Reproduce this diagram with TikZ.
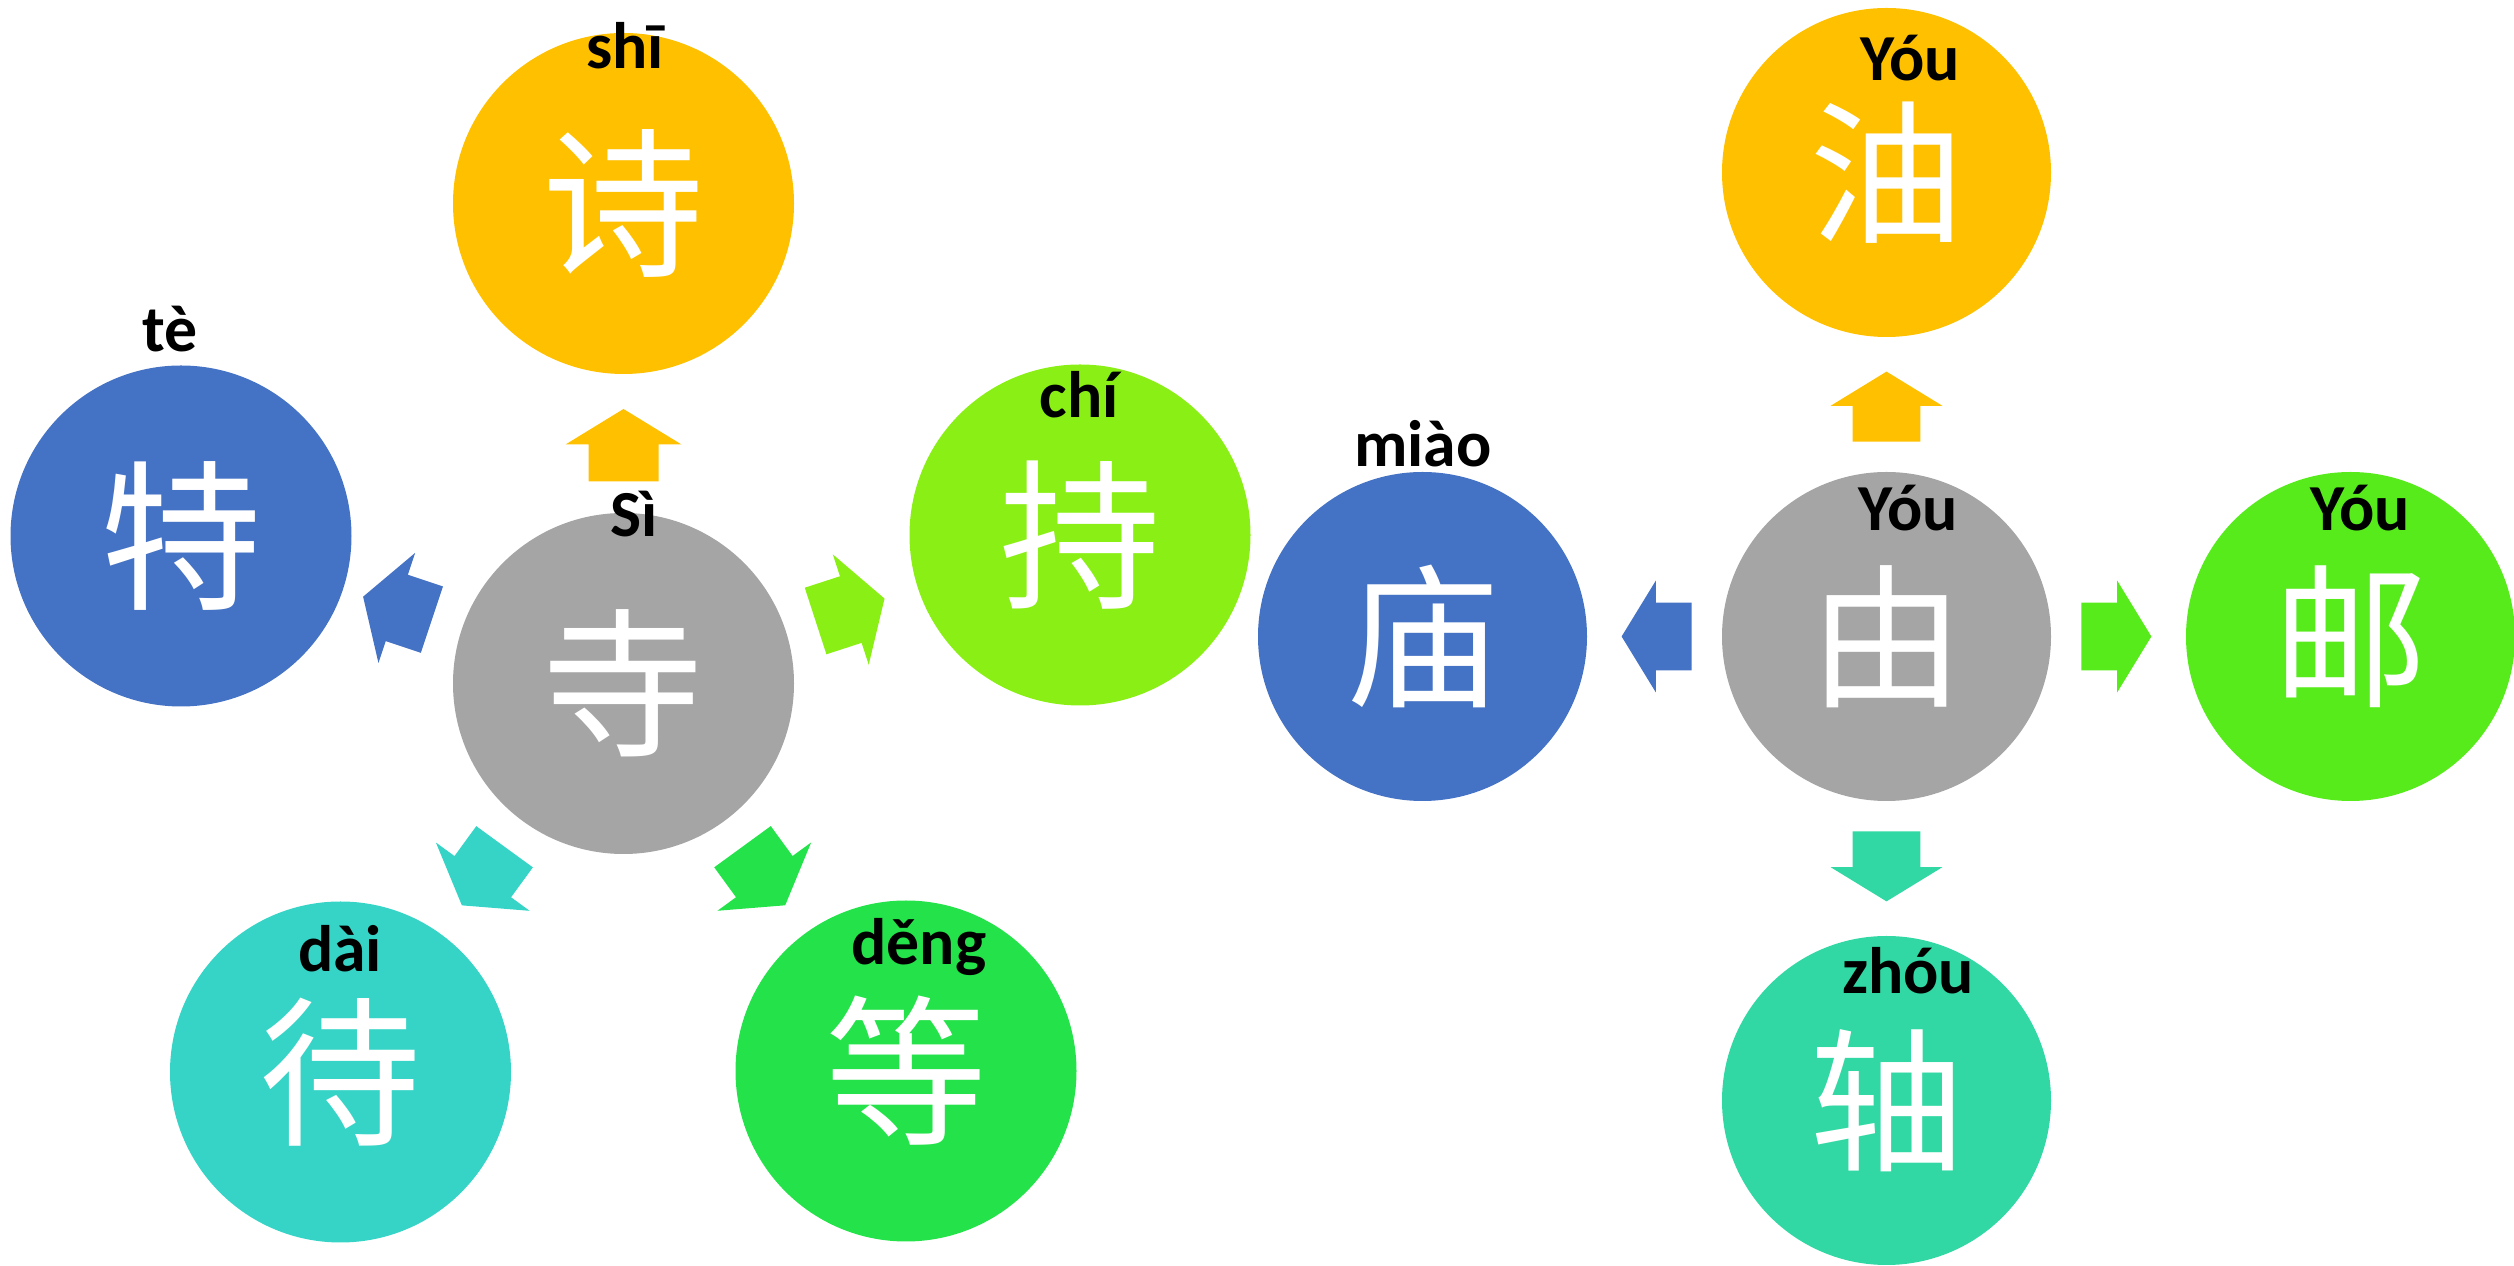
\documentclass[tikz,border=0pt]{standalone}
\usepackage{fontspec}
\setmainfont{Carlito}
\newfontfamily\cjk{Noto Sans CJK SC}
\usetikzlibrary{calc}

\definecolor{grayC}{HTML}{A5A5A5}
\definecolor{orangeC}{HTML}{FFC000}
\definecolor{blueC}{HTML}{4472C4}
\definecolor{limeC}{HTML}{8AEF14}
\definecolor{tealC}{HTML}{36D4C6}
\definecolor{greenC}{HTML}{24E34A}
\definecolor{brightC}{HTML}{57EB1C}
\definecolor{seaC}{HTML}{31D8A3}

% block arrow from the hub #1 towards #2, colour #3, size factor #4
\newcommand{\radarrow}[4]{%
  \path ($(#1)!#4*2.02cm!(#2)$) coordinate (ra-s)
        ($(#1)!#4*2.39cm!(#2)$) coordinate (ra-h)
        ($(#1)!#4*2.745cm!(#2)$) coordinate (ra-t);
  \fill[#3] ($(ra-s)!#4*3.5mm!90:(ra-t)$) -- ($(ra-h)!#4*3.5mm!90:(ra-t)$)
     -- ($(ra-h)!#4*5.8mm!90:(ra-t)$) -- (ra-t) -- ($(ra-h)!#4*5.8mm!-90:(ra-t)$)
     -- ($(ra-h)!#4*3.5mm!-90:(ra-t)$) -- ($(ra-s)!#4*3.5mm!-90:(ra-t)$) -- cycle;
}

\begin{document}
\begin{tikzpicture}[x=0.1mm, y=0.1mm,
        hanzi/.style={circle, fill=#1, inner sep=0pt, minimum size=3.41cm, text=white, font=\cjk\fontsize{46}{46}\selectfont},
        hanzi small/.style={hanzi=#1, minimum size=3.29cm, font=\cjk\fontsize{44}{44}\selectfont},
        pinyin/.style={anchor=base, font=\bfseries\fontsize{18.7}{20}\selectfont}
    ]
    \useasboundingbox (0,0) rectangle (2514,1266);

    % 寺 and its family
    \node[hanzi=grayC] (si) at (623.5,582.5) {寺};
    \node[hanzi=orangeC] (shi) at (623.5,1062.5) {诗};
    \node[hanzi=limeC] (chi) at (1080,731) {持};
    \node[hanzi=blueC] (te) at (181,730) {特};
    \node[hanzi=tealC] (dai) at (340.5,194) {待};
    \node[hanzi=greenC] (deng) at (906,195) {等};

    % 由 and its family
    \node[hanzi small=grayC] (you) at (1886.5,629.5) {由};
    \node[hanzi small=blueC] (miao) at (1422.5,629.5) {庙};
    \node[hanzi small=orangeC] (you-oil) at (1886.5,1093.5) {油};
    \node[hanzi small=brightC] (you-post) at (2350.5,629.5) {邮};
    \node[hanzi small=seaC] (zhou) at (1886.5,165.5) {轴};

    % pinyin
    \node[pinyin] (py-si) at (634,729) {Sì};
    \node[pinyin] (py-shi) at (625,1197) {shī};
    \node[pinyin] (py-te) at (170,914) {tè};
    \node[pinyin] (py-chi) at (1079,848) {chí};
    \node[pinyin] (py-dai) at (340,294) {dài};
    \node[pinyin] (py-deng) at (919,301) {děng};
    \node[pinyin] (py-miao) at (1423,799) {miào};
    \node[pinyin] (py-you) at (1908,735) {Yóu};
    \node[pinyin] (py-you-oil) at (1910,1185) {Yóu};
    \node[pinyin] (py-you-post) at (2360,735) {Yóu};
    \node[pinyin] (py-zhou) at (1908,272) {zhóu};

    % arrows
    \foreach \tgt/\col in {shi/orangeC, chi/limeC, te/blueC, dai/tealC, deng/greenC}
        \radarrow{si}{\tgt}{\col}{1};
    \foreach \tgt/\col in {miao/blueC, you-oil/orangeC, you-post/brightC, zhou/seaC}
        \radarrow{you}{\tgt}{\col}{0.965};

\end{tikzpicture}
\end{document}
